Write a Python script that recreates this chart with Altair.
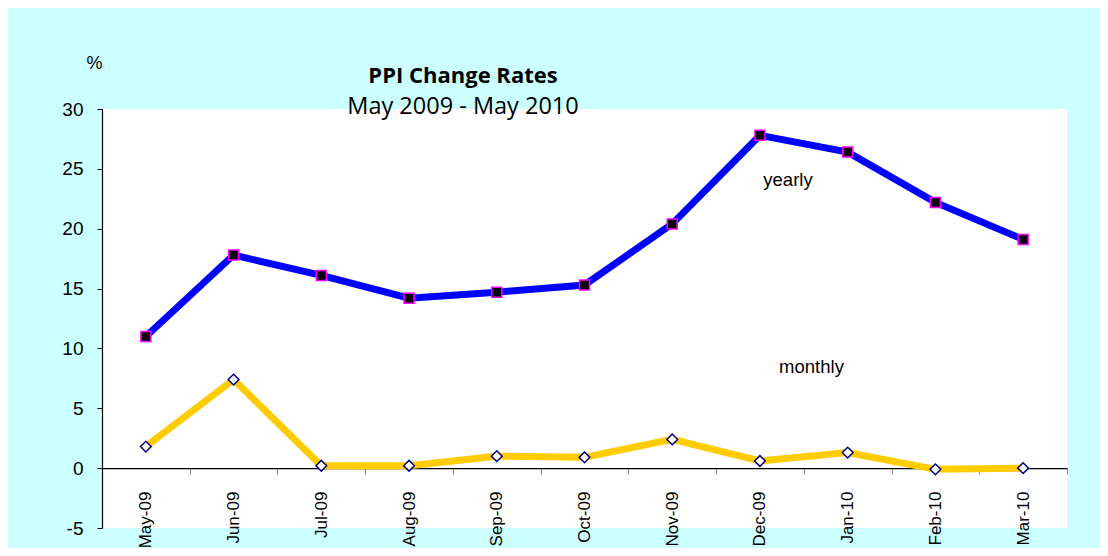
import altair as alt
import pandas as pd

months = ["May-09", "Jun-09", "Jul-09", "Aug-09", "Sep-09", "Oct-09",
          "Nov-09", "Dec-09", "Jan-10", "Feb-10", "Mar-10"]
yearly = [11.0, 17.8, 16.1, 14.2, 14.7, 15.3, 20.4, 27.8, 26.4, 22.2, 19.1]
monthly = [1.8, 7.4, 0.2, 0.2, 1.0, 0.9, 2.4, 0.6, 1.3, -0.1, 0.0]
y_ticks = [-5, 0, 5, 10, 15, 20, 25, 30]

df = pd.DataFrame({"month": months, "yearly": yearly, "monthly": monthly})

W, H = 965, 419

x_enc = alt.X("month:N", sort=months, bandPosition=0.5,
              scale=alt.Scale(type="band", paddingInner=0, paddingOuter=0),
              axis=alt.Axis(title=None, offset=-59.9, labelAngle=-90,
                            labelFont="Liberation Sans", labelFontSize=17,
                            labelColor="black", labelPadding=17,
                            tickBand="extent", tickSize=6, tickColor="#888888",
                            domainColor="black", domainWidth=1.2, grid=False))

def y_enc(field):
    return alt.Y(f"{field}:Q",
                 scale=alt.Scale(domain=[-5, 30], nice=False, zero=False),
                 axis=alt.Axis(title=None, values=y_ticks, labelFont="Liberation Sans",
                               labelFontSize=19, labelColor="black", labelPadding=14,
                               labelExpr="datum.value + ''",
                               tickSize=5, tickColor="black", domainColor="black",
                               domainWidth=1.2, grid=False))

base = alt.Chart(df)

yearly_line = base.mark_line(color="#0000FF", strokeWidth=7).encode(x=x_enc, y=y_enc("yearly"))
monthly_line = base.mark_line(color="#FFCC00", strokeWidth=7).encode(x=x_enc, y=y_enc("monthly"))
yearly_pts = base.mark_point(shape="square", filled=True, fill="black", stroke="#FF00FF",
                             strokeWidth=1.5, size=100, opacity=1).encode(x=x_enc, y=y_enc("yearly"))
monthly_pts = base.mark_point(shape="diamond", filled=True, fill="white", stroke="#000080",
                              strokeWidth=1.5, size=115, opacity=1).encode(x=x_enc, y=y_enc("monthly"))

def label(text, x, y, size, font="Liberation Sans", weight="normal", align="center"):
    return alt.Chart(pd.DataFrame({"t": [text]})).mark_text(
        font=font, fontSize=size, fontWeight=weight, color="black",
        align=align, baseline="alphabetic").encode(
        text="t:N", x=alt.value(x), y=alt.value(y))

title = label("PPI Change Rates", 361, -26, 22, font="Open Sans", weight="bold")
subtitle = label("May 2009 - May 2010", 361, 5, 23.5, font="Open Sans")
pct = label("%", -7.5, -40, 18)
yl = label("yearly", 686, 77, 18.5)
ml = label("monthly", 709.5, 264, 18.5)

chart = alt.layer(yearly_line, monthly_line, yearly_pts, monthly_pts,
                  title, subtitle, pct, yl, ml).properties(
    width=W, height=H, autosize="none",
    padding={"left": 94, "top": 101, "right": 33, "bottom": 20},
    background="#CCFFFF",
).configure_view(fill="white", strokeWidth=0)

chart.save("out.html", embed_options={"renderer": "svg", "actions": False})
